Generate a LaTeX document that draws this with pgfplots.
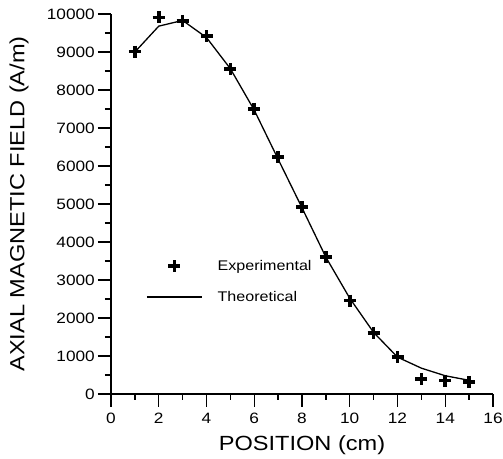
\documentclass[border=0pt]{standalone}
\usepackage{fontspec}
\setmainfont[FakeStretch=1.15]{Liberation Sans}
\usepackage{pgfplots}
\pgfplotsset{compat=1.18}
\pgfplotsset{
  lineleg/.style={legend image code/.code={\draw[##1] (0pt,0pt) -- (55pt,0pt);}},
  markleg/.style={legend image code/.code={\draw[##1] plot coordinates {(27.5pt,0pt)};}},
}

\begin{document}
\begin{tikzpicture}
\begin{axis}[
    scale only axis,
    width=382pt, height=380pt,
    xmin=0, xmax=16, ymin=0, ymax=10000,
    axis x line*=bottom, axis y line*=left,
    axis line style={line width=1.3pt},
    xtick={0,2,...,16}, minor xtick={1,3,...,15},
    ytick={0,1000,...,10000}, minor ytick={500,1500,...,9500},
    tick align=outside,
    major tick length=13pt, minor tick length=6pt,
    tick style={line width=1.3pt, black},
    scaled y ticks=false,
    /pgf/number format/.cd, 1000 sep={}, assume math mode=true, /pgfplots/.cd,
    tick label style={font=\fontsize{15}{17}\selectfont},
    yticklabel style={inner sep=0pt, xshift=-3pt},
    xticklabel style={inner sep=0pt, yshift=-6pt},
    xlabel={POSITION (cm)}, ylabel={AXIAL MAGNETIC FIELD (A/m)},
    label style={font=\fontsize{20.5}{24}\selectfont},
    xlabel style={at={(axis description cs:0.5,0)}, anchor=center, yshift=-51pt},
    ylabel style={at={(axis description cs:0,0.5)}, anchor=center, yshift=92pt},
    legend style={draw=none, fill=none, inner sep=0pt, at={(axis cs:1.47,2960)}, anchor=west,
        font=\fontsize{14}{16}\selectfont, row sep=19pt,
        nodes={inner sep=0pt, anchor=west}},
    legend cell align=left,
]
\addplot[only marks, mark=+, mark size=6pt, line width=3.6pt, markleg] coordinates {
    (1,9010) (2,9910) (3,9820) (4,9420) (5,8550) (6,7500) (7,6230) (8,4920)
    (9,3600) (10,2460) (11,1610) (12,970) (13,390) (14,350) (15,320)
};
\addlegendentry{\hspace{15pt}Experimental}
\addplot[mark=none, line width=1.3pt, lineleg] coordinates {
    (1,9000) (2,9680) (3,9830) (4,9380) (5,8560) (6,7470) (7,6180) (8,4900)
    (9,3600) (10,2520) (11,1620) (12,970) (13,680) (14,480) (15,360)
};
\addlegendentry{\hspace{15pt}Theoretical}
\end{axis}
\pgfresetboundingbox
\path[use as bounding box] ([xshift=-111pt,yshift=-65pt]current axis.south west)
    rectangle ([xshift=10pt,yshift=14pt]current axis.north east);
\end{tikzpicture}
\end{document}
